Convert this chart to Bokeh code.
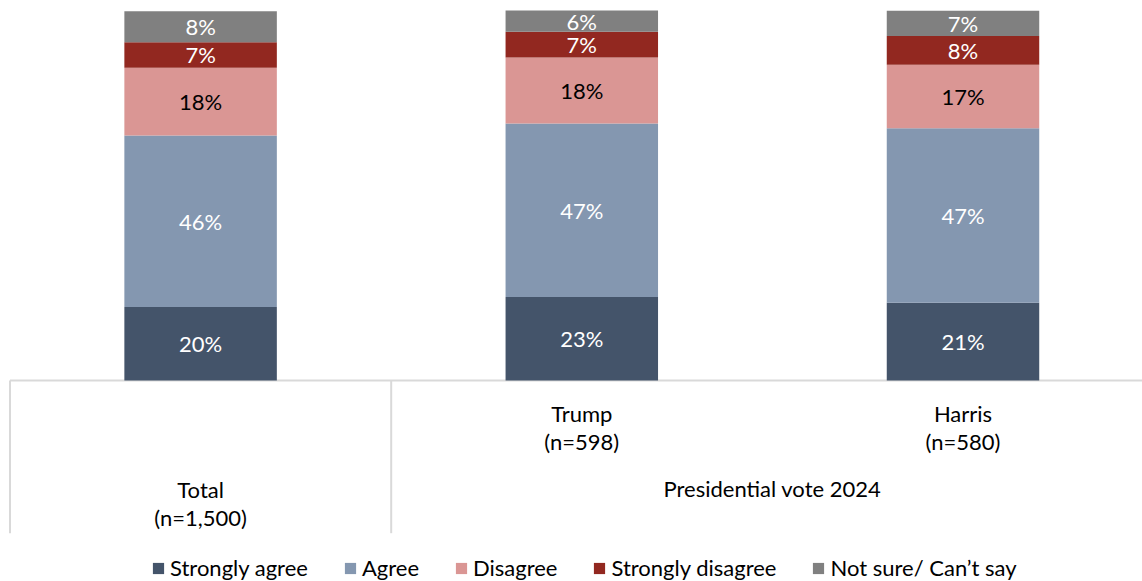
from bokeh.plotting import figure
from bokeh.models import ColumnDataSource, Range1d, Legend, LegendItem
from bokeh.core.properties import value
from bokeh.embed import file_html
from bokeh.resources import INLINE

# ---------------- data ----------------
categories = ["Total", "Trump", "Harris"]
category_labels = ["Total\n(n=1,500)", "Trump\n(n=598)", "Harris\n(n=580)"]
group_label = "Presidential vote 2024"
series = ["Strongly agree", "Agree", "Disagree", "Strongly disagree", "Not sure/ Can\u2019t say"]
strongly_agree = [19.9, 22.6, 21.0]
agree = [46.4, 46.9, 47.2]
disagree = [18.3, 17.9, 17.2]
strongly_disagree = [6.9, 6.9, 7.8]
not_sure = [8.4, 5.8, 6.8]

colors = ["#44546A", "#8497B0", "#DA9694", "#922820", "#808080"]
label_colors = ["white", "white", "black", "white", "white"]
FONT = "Lato"
FS = "22px"

W, H = 1142, 581
unit_px = 381.2
px_per_pct = 3.697
base_px = 380.0
x_start = -9.5 / unit_px
x_end = x_start + W / unit_px
y_end = 100 + 10.3 / px_per_pct
y_start = y_end - H / px_per_pct


def y_of(px):
    return (base_px - px) / px_per_pct


xs = [i + 0.5 for i in range(len(categories))]
values = [strongly_agree, agree, disagree, strongly_disagree, not_sure]

p = figure(width=W, height=H, output_backend="svg", toolbar_location=None,
           x_range=Range1d(x_start, x_end), y_range=Range1d(y_start, y_end),
           x_axis_location=None, y_axis_location=None, min_border=0,
           outline_line_color=None, tools="")
p.xgrid.visible = False
p.ygrid.visible = False
p.background_fill_color = "white"
p.border_fill_color = "white"

# table lines under the bars
line_col = "#D9D9D9"
yb = y_of(532.7)
p.segment(x0=[0, 0, 1], y0=[0, 0, 0], x1=[x_end, 0, 1], y1=[0, yb, yb],
          line_color=line_col, line_width=2)

data = {"x": xs}
for name, vals in zip(series, values):
    data[name] = vals
src = ColumnDataSource(data)
rends = p.vbar_stack(series, x="x", width=0.4, color=colors, source=src,
                     line_color=None)

# segment labels
for i, (vals, lc) in enumerate(zip(values, label_colors)):
    bottoms = [sum(v[j] for v in values[:i]) for j in range(len(xs))]
    mids = [b + v / 2 for b, v in zip(bottoms, vals)]
    texts = [f"{round(v)}%" for v in vals]
    p.text(x=xs, y=mids, text=texts, text_align="center", text_baseline="middle",
           text_color=lc, text_font=value(FONT), text_font_size=FS)

# category labels
cat_y = [y_of(503), y_of(427), y_of(427)]
p.text(x=xs, y=cat_y, text=category_labels, text_align="center",
       text_baseline="middle", text_color="black", text_font=value(FONT),
       text_font_size=FS, text_line_height=1.07)
p.text(x=[(xs[1] + xs[2]) / 2], y=[y_of(488)], text=[group_label],
       text_align="center", text_baseline="middle", text_color="black",
       text_font=value(FONT), text_font_size=FS)

legend = Legend(items=[LegendItem(label=s, renderers=[r]) for s, r in zip(series, rends)],
                orientation="horizontal", location=(151, 0),
                glyph_width=14, glyph_height=14, label_standoff=5, spacing=35,
                padding=0, margin=0, border_line_alpha=0, background_fill_alpha=0,
                label_text_font=FONT, label_text_font_size=FS, label_text_color="black",
                label_height=26)
p.add_layout(legend)

open("out.html", "w").write(file_html(p, INLINE))
